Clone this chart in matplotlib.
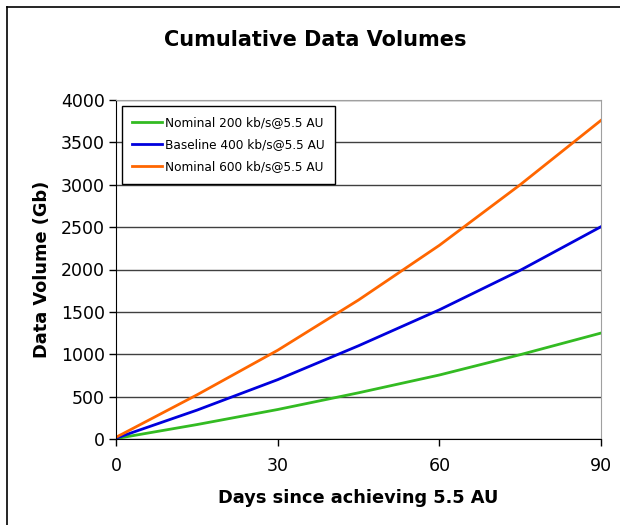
import matplotlib.pyplot as plt
from matplotlib.lines import Line2D

# values
days = [0, 15, 30, 45, 60, 75, 90]
nominal_200 = [5, 170, 348, 545, 755, 995, 1250]
baseline_400 = [10, 340, 700, 1100, 1524, 1990, 2505]
nominal_600 = [20, 520, 1047, 1640, 2285, 3000, 3760]
labels = ['Nominal 200 kb/s@5.5 AU', 'Baseline 400 kb/s@5.5 AU', 'Nominal 600 kb/s@5.5 AU']
colors = ['#33bb22', '#0000dd', '#ff6600']

plt.rcParams['font.family'] = 'DejaVu Sans'

fig = plt.figure(figsize=(6.2, 5.25), dpi=100)
ax = fig.add_axes([116 / 620, 86 / 525, 485 / 620, 339 / 525])

for vals, lab, col in zip([nominal_200, baseline_400, nominal_600], labels, colors):
    ax.plot(days, vals, color=col, lw=2, label=lab)

ax.set_xlim(0, 90)
ax.set_ylim(0, 4000)
ax.set_xticks([0, 30, 60, 90])
ax.set_yticks(range(0, 4001, 500))
ax.tick_params(labelsize=12.5, direction='out', length=5, width=1, color='black', pad=3)
ax.tick_params(axis='x', pad=8)
ax.yaxis.grid(True, color='#404040', lw=1)
ax.set_axisbelow(True)

for side in ['top', 'right']:
    ax.spines[side].set_color('#a0a0a0')
for side in ['left', 'bottom']:
    ax.spines[side].set_color('black')

ax.set_xlabel('Days since achieving 5.5 AU', fontsize=12.8, fontweight='bold', labelpad=10)
ax.set_ylabel('Data Volume (Gb)', fontsize=12.8, fontweight='bold', labelpad=7)

leg = ax.legend(loc='upper left', bbox_to_anchor=(0.012, 0.982), fontsize=8.7, frameon=True,
                fancybox=False, edgecolor='black', handlelength=2.5, handletextpad=0.2,
                labelspacing=0.75, borderpad=0.85, borderaxespad=0)
leg.get_frame().set_linewidth(1)
leg.get_frame().set_alpha(1)

fig.text(315 / 620, 1 - 40 / 525, 'Cumulative Data Volumes', ha='center', va='center',
         fontsize=15, fontweight='bold')

# outer chart frame (runs off the right and bottom of the picture)
fig.add_artist(Line2D([7 / 620, 7 / 620], [-0.05, 1 - 7 / 525], color='black', lw=1.2,
                      transform=fig.transFigure))
fig.add_artist(Line2D([7 / 620, 1.05], [1 - 7 / 525, 1 - 7 / 525], color='black', lw=1.2,
                      transform=fig.transFigure))

fig.savefig('out.png', dpi=100)
